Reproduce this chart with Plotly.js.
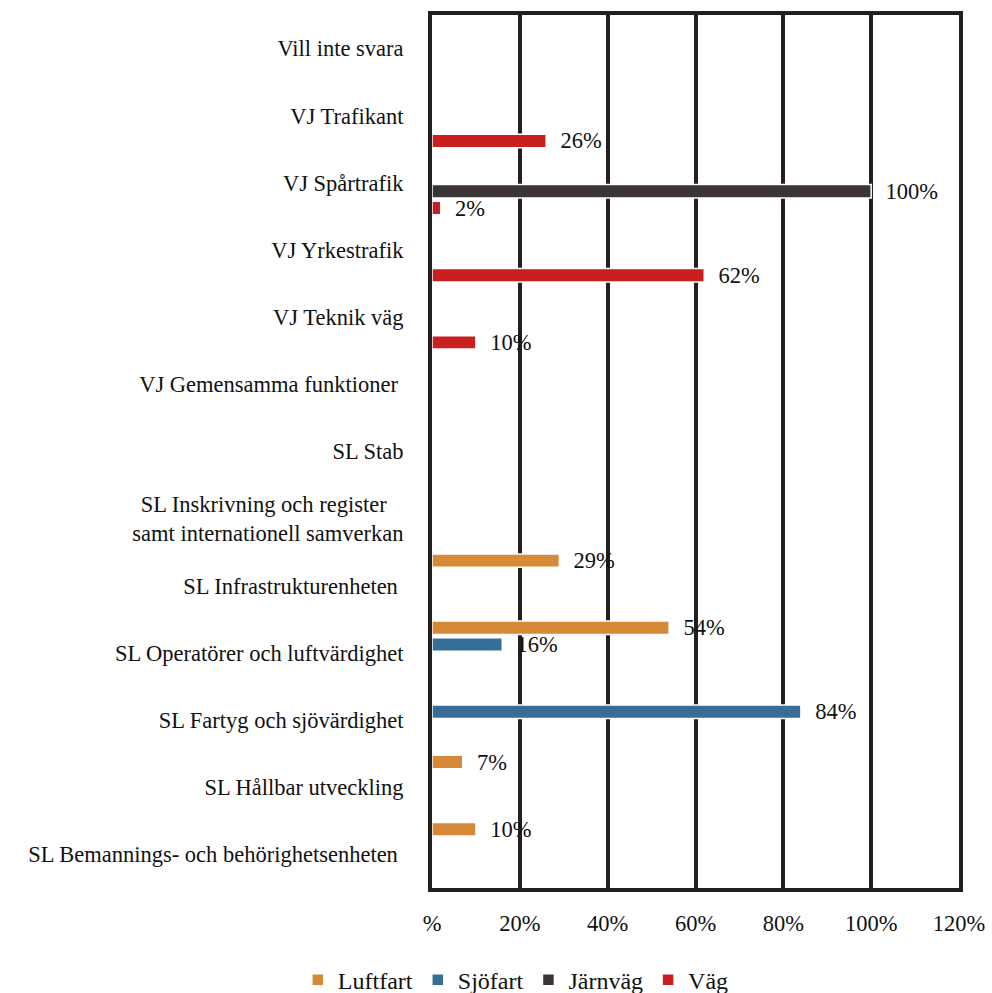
<!DOCTYPE html>
<html>
<head>
<meta charset="utf-8">
<script src="https://cdn.plot.ly/plotly-3.0.1.min.js"></script>
<style>html,body{margin:0;padding:0;background:#fff;}#chart{width:992px;height:993px;}</style>
</head>
<body>
<div id="chart"></div>
<script>
const categories = [
  "Vill inte svara",
  "VJ Trafikant",
  "VJ Spårtrafik",
  "VJ Yrkestrafik",
  "VJ Teknik väg",
  "VJ Gemensamma funktioner ",
  "SL Stab",
  "SL Inskrivning och register\u00a0\u00a0\u00a0<br>samt internationell samverkan",
  "SL Infrastrukturenheten ",
  "SL Operatörer och luftvärdighet",
  "SL Fartyg och sjövärdighet",
  "SL Hållbar utveckling",
  "SL Bemannings- och behörighetsenheten "
];
const luftfart = [null, null, null, null, null, null, null, null, 29, 54, null, 7, 10];
const sjofart  = [null, null, null, null, null, null, null, null, null, 16, 84, null, null];
const jarnvag  = [null, null, 100, null, null, null, null, null, null, null, null, null, null];
const vag      = [null, 26, 2, 62, 10, null, null, null, null, null, null, null, null];
const seriesNames = ["Luftfart", "Sjöfart", "Järnväg", "Väg"];
const seriesColors = ["#d68a37", "#376e95", "#3a3435", "#c91f1f"];
const tickVals = [0, 20, 40, 60, 80, 100, 120];
const tickText = ["%", "20%", "40%", "60%", "80%", "100%", "120%"];

const FONT = "'Liberation Serif', 'Times New Roman', serif";
const FS = 22.5;
const allSeries = [luftfart, sjofart, jarnvag, vag];
const traces = allSeries.map((vals, i) => ({
  type: "bar",
  orientation: "h",
  name: seriesNames[i],
  y: categories,
  x: vals,
  marker: { color: seriesColors[i], line: { color: "#ffffff", width: 1.5 } },
  text: vals.map(v => v == null ? "" : v + "%"),
  texttemplate: "\u2002%{text}",
  textposition: "outside",
  constraintext: "none",
  cliponaxis: false,
  textfont: { family: FONT, size: FS, color: "#111" },
  hoverinfo: "skip"
}));

const layout = {
  width: 992,
  height: 993,
  margin: { l: 432, r: 33, t: 15, b: 105 },
  paper_bgcolor: "#fff",
  plot_bgcolor: "#fff",
  font: { family: FONT, size: FS, color: "#111" },
  barmode: "group",
  bargap: 0,
  bargroupgap: 0.2,
  showlegend: true,
  legend: {
    orientation: "h",
    xref: "container", yref: "container",
    x: 0.52, xanchor: "center",
    y: 0.013, yanchor: "middle",
    font: { family: FONT, size: 24, color: "#111" },
    traceorder: "normal"
  },
  xaxis: {
    range: [0, 120],
    tickvals: tickVals,
    ticktext: tickText,
    showgrid: true,
    gridcolor: "#231f20",
    gridwidth: 4,
    zeroline: false,
    showline: true,
    mirror: true,
    linecolor: "#231f20",
    linewidth: 4,
    ticks: "outside",
    ticklen: 12,
    tickcolor: "rgba(0,0,0,0)",
    tickfont: { family: FONT, size: FS, color: "#111" },
    fixedrange: true
  },
  yaxis: {
    type: "category",
    autorange: "reversed",
    showgrid: false,
    zeroline: false,
    showline: true,
    mirror: true,
    linecolor: "#231f20",
    linewidth: 4,
    ticks: "outside",
    ticklen: 20,
    tickcolor: "rgba(0,0,0,0)",
    tickfont: { family: FONT, size: FS, color: "#111" },
    fixedrange: true
  }
};

Plotly.newPlot("chart", traces, layout, { displayModeBar: false, staticPlot: true });
</script>
</body>
</html>
